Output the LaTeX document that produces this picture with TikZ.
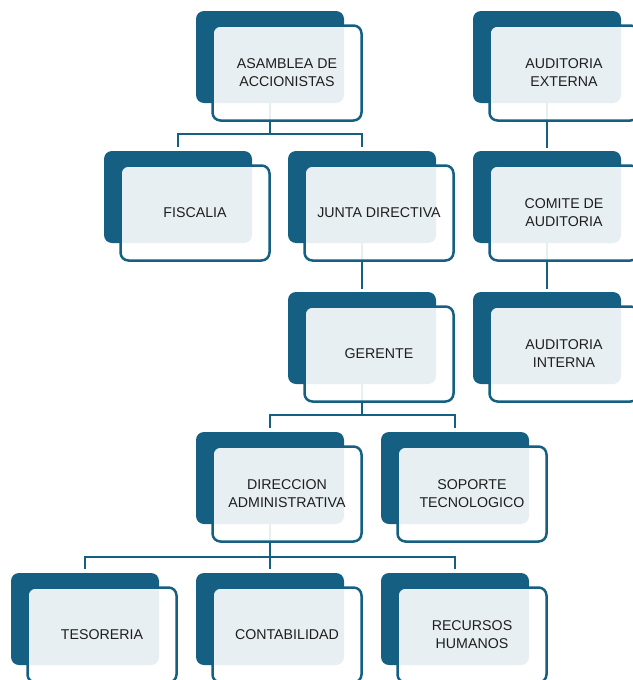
\documentclass[tikz,border=0pt]{standalone}
\usepackage{fontspec}
\setmainfont{Liberation Sans}
\definecolor{dkblue}{HTML}{156082}
\definecolor{txt}{HTML}{1E1E1E}
\begin{document}
\begin{tikzpicture}[x=1pt,y=-1pt,
  backbox/.style={rectangle, rounded corners=8pt, minimum width=148pt, minimum height=92pt, inner sep=0pt, fill=dkblue, draw=none},
  frontbox/.style={rectangle, rounded corners=8pt, minimum width=149pt, minimum height=95pt, inner sep=0pt,
     draw=dkblue, line width=2.5pt, fill=white, fill opacity=0.9, text opacity=1, text=txt, align=center,
     font=\fontsize{14.2}{18}\selectfont},
  conn/.style={draw=dkblue, line width=2.5pt}]
\useasboundingbox (0,0) rectangle (632,680);
% back boxes
\node[backbox] (b-asm) at (270,57) {};
\node[backbox] (b-ext) at (547,57) {};
\node[backbox] (b-fis) at (178,197) {};
\node[backbox] (b-jun) at (362,197) {};
\node[backbox] (b-com) at (547,197) {};
\node[backbox] (b-ger) at (362,338) {};
\node[backbox] (b-int) at (547,338) {};
\node[backbox] (b-dir) at (270,478) {};
\node[backbox] (b-sop) at (455,478) {};
\node[backbox] (b-tes) at (85,619) {};
\node[backbox] (b-con) at (270,619) {};
\node[backbox] (b-rec) at (455,619) {};
% connectors
\draw[conn, shorten >=4pt] (b-asm.south) -- ++(0,31) -| (b-fis.north);
\draw[conn, shorten >=4pt] (b-asm.south) -- ++(0,31) -| (b-jun.north);
\draw[conn, shorten >=3pt] (b-jun.south) -- (b-ger.north);
\draw[conn, shorten >=3pt] (b-ext.south) -- (b-com.north);
\draw[conn, shorten >=3pt] (b-com.south) -- (b-int.north);
\draw[conn, shorten >=4pt] (b-ger.south) -- ++(0,31) -| (b-dir.north);
\draw[conn, shorten >=4pt] (b-ger.south) -- ++(0,31) -| (b-sop.north);
\draw[conn, shorten >=4pt] (b-dir.south) -- ++(0,33) -| (b-tes.north);
\draw[conn, shorten >=4pt] (b-dir.south) -- ++(0,33) -| (b-con.north);
\draw[conn, shorten >=4pt] (b-dir.south) -- ++(0,33) -| (b-rec.north);
% front boxes
\node[frontbox] (f-asm) at (287,73) {ASAMBLEA DE\\ACCIONISTAS};
\node[frontbox] (f-ext) at (564,73) {AUDITORIA\\EXTERNA};
\node[frontbox] (f-fis) at (195,213) {FISCALIA};
\node[frontbox] (f-jun) at (379,213) {JUNTA DIRECTIVA};
\node[frontbox] (f-com) at (564,213) {COMITE DE\\AUDITORIA};
\node[frontbox] (f-ger) at (379,354) {GERENTE};
\node[frontbox] (f-int) at (564,354) {AUDITORIA\\INTERNA};
\node[frontbox] (f-dir) at (287,494) {DIRECCION\\ADMINISTRATIVA};
\node[frontbox] (f-sop) at (472,494) {SOPORTE\\TECNOLOGICO};
\node[frontbox] (f-tes) at (102,635) {TESORERIA};
\node[frontbox] (f-con) at (287,635) {CONTABILIDAD};
\node[frontbox] (f-rec) at (472,635) {RECURSOS\\HUMANOS};
\end{tikzpicture}
\end{document}
